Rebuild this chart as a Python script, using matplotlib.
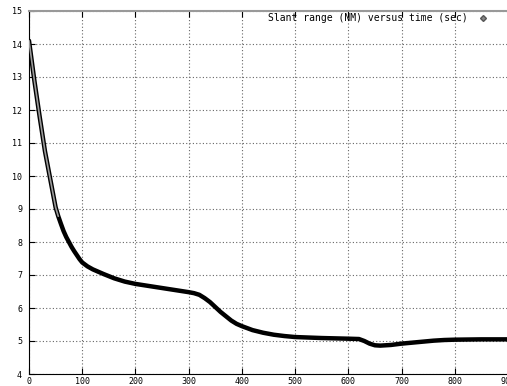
import matplotlib
matplotlib.use("Agg")
import matplotlib.pyplot as plt

time_sec = [0, 10, 20, 30, 40, 50, 55, 60, 65, 70, 75, 80, 85, 90, 95, 100, 110,
            120, 140, 160, 180, 200, 220, 240, 260, 280, 300, 310, 320, 330, 340,
            350, 360, 370, 380, 390, 400, 420, 440, 460, 480, 500, 550, 600, 620,
            630, 640, 650, 660, 670, 680, 700, 720, 740, 760, 780, 800, 850, 900]
slant_nm = [14.1, 12.9, 11.8, 10.75, 9.9, 9.05, 8.78, 8.55, 8.33, 8.15, 8.0, 7.85,
            7.72, 7.6, 7.48, 7.38, 7.26, 7.17, 7.03, 6.9, 6.8, 6.73, 6.68, 6.63,
            6.58, 6.53, 6.48, 6.45, 6.4, 6.3, 6.18, 6.03, 5.88, 5.75, 5.62, 5.52,
            5.45, 5.33, 5.25, 5.19, 5.15, 5.12, 5.09, 5.07, 5.06, 5.0, 4.92, 4.87,
            4.86, 4.87, 4.88, 4.92, 4.95, 4.98, 5.01, 5.03, 5.04, 5.05, 5.05]
x_ticks = [0, 100, 200, 300, 400, 500, 600, 700, 800, 900]
y_ticks = [4, 5, 6, 7, 8, 9, 10, 11, 12, 13, 14, 15]
legend_label = "Slant range (NM) versus time (sec)"

W, H = 507, 386
fig = plt.figure(figsize=(W / 100, H / 100), dpi=100)
ax = fig.add_axes([29 / W, 12 / H, (W - 29 + 1) / W, (374 - 11) / H])
ax.set_xlim(0, 900)
ax.set_ylim(4, 15)

ax.plot(time_sec, slant_nm, color="black", lw=3.2, solid_capstyle="round",
        solid_joinstyle="round", zorder=3)
n_sparse = time_sec.index(55) + 1
ax.plot(time_sec[:n_sparse], slant_nm[:n_sparse], color="#9a9a9a", lw=1.2,
        solid_capstyle="round", zorder=4)

ax.set_xticks(x_ticks)
ax.set_yticks(y_ticks)
ax.tick_params(direction="in", length=4, width=0.8, top=True, right=False,
               labelsize=6, colors="black")
ax.tick_params(axis="x", pad=2)
ax.tick_params(axis="y", pad=5)
for lab in ax.get_xticklabels() + ax.get_yticklabels():
    lab.set_family("DejaVu Sans Mono")
ax.grid(True, color="#666666", linestyle=(0, (1, 2)), linewidth=0.8)
ax.spines["top"].set_color("#999999")
ax.spines["top"].set_linewidth(1.5)
ax.spines["right"].set_visible(False)
ax.spines["left"].set_color("black")
ax.spines["bottom"].set_color("black")

fig.text(268 / W, 1 - 18 / H, legend_label, fontsize=7, family="DejaVu Sans Mono",
         va="center", ha="left")
fig.lines.append(plt.Line2D([483 / W], [1 - 18 / H], marker="D", markersize=3,
                            color="#888888", markeredgecolor="#555555",
                            transform=fig.transFigure))

fig.savefig("out.png", dpi=100)
